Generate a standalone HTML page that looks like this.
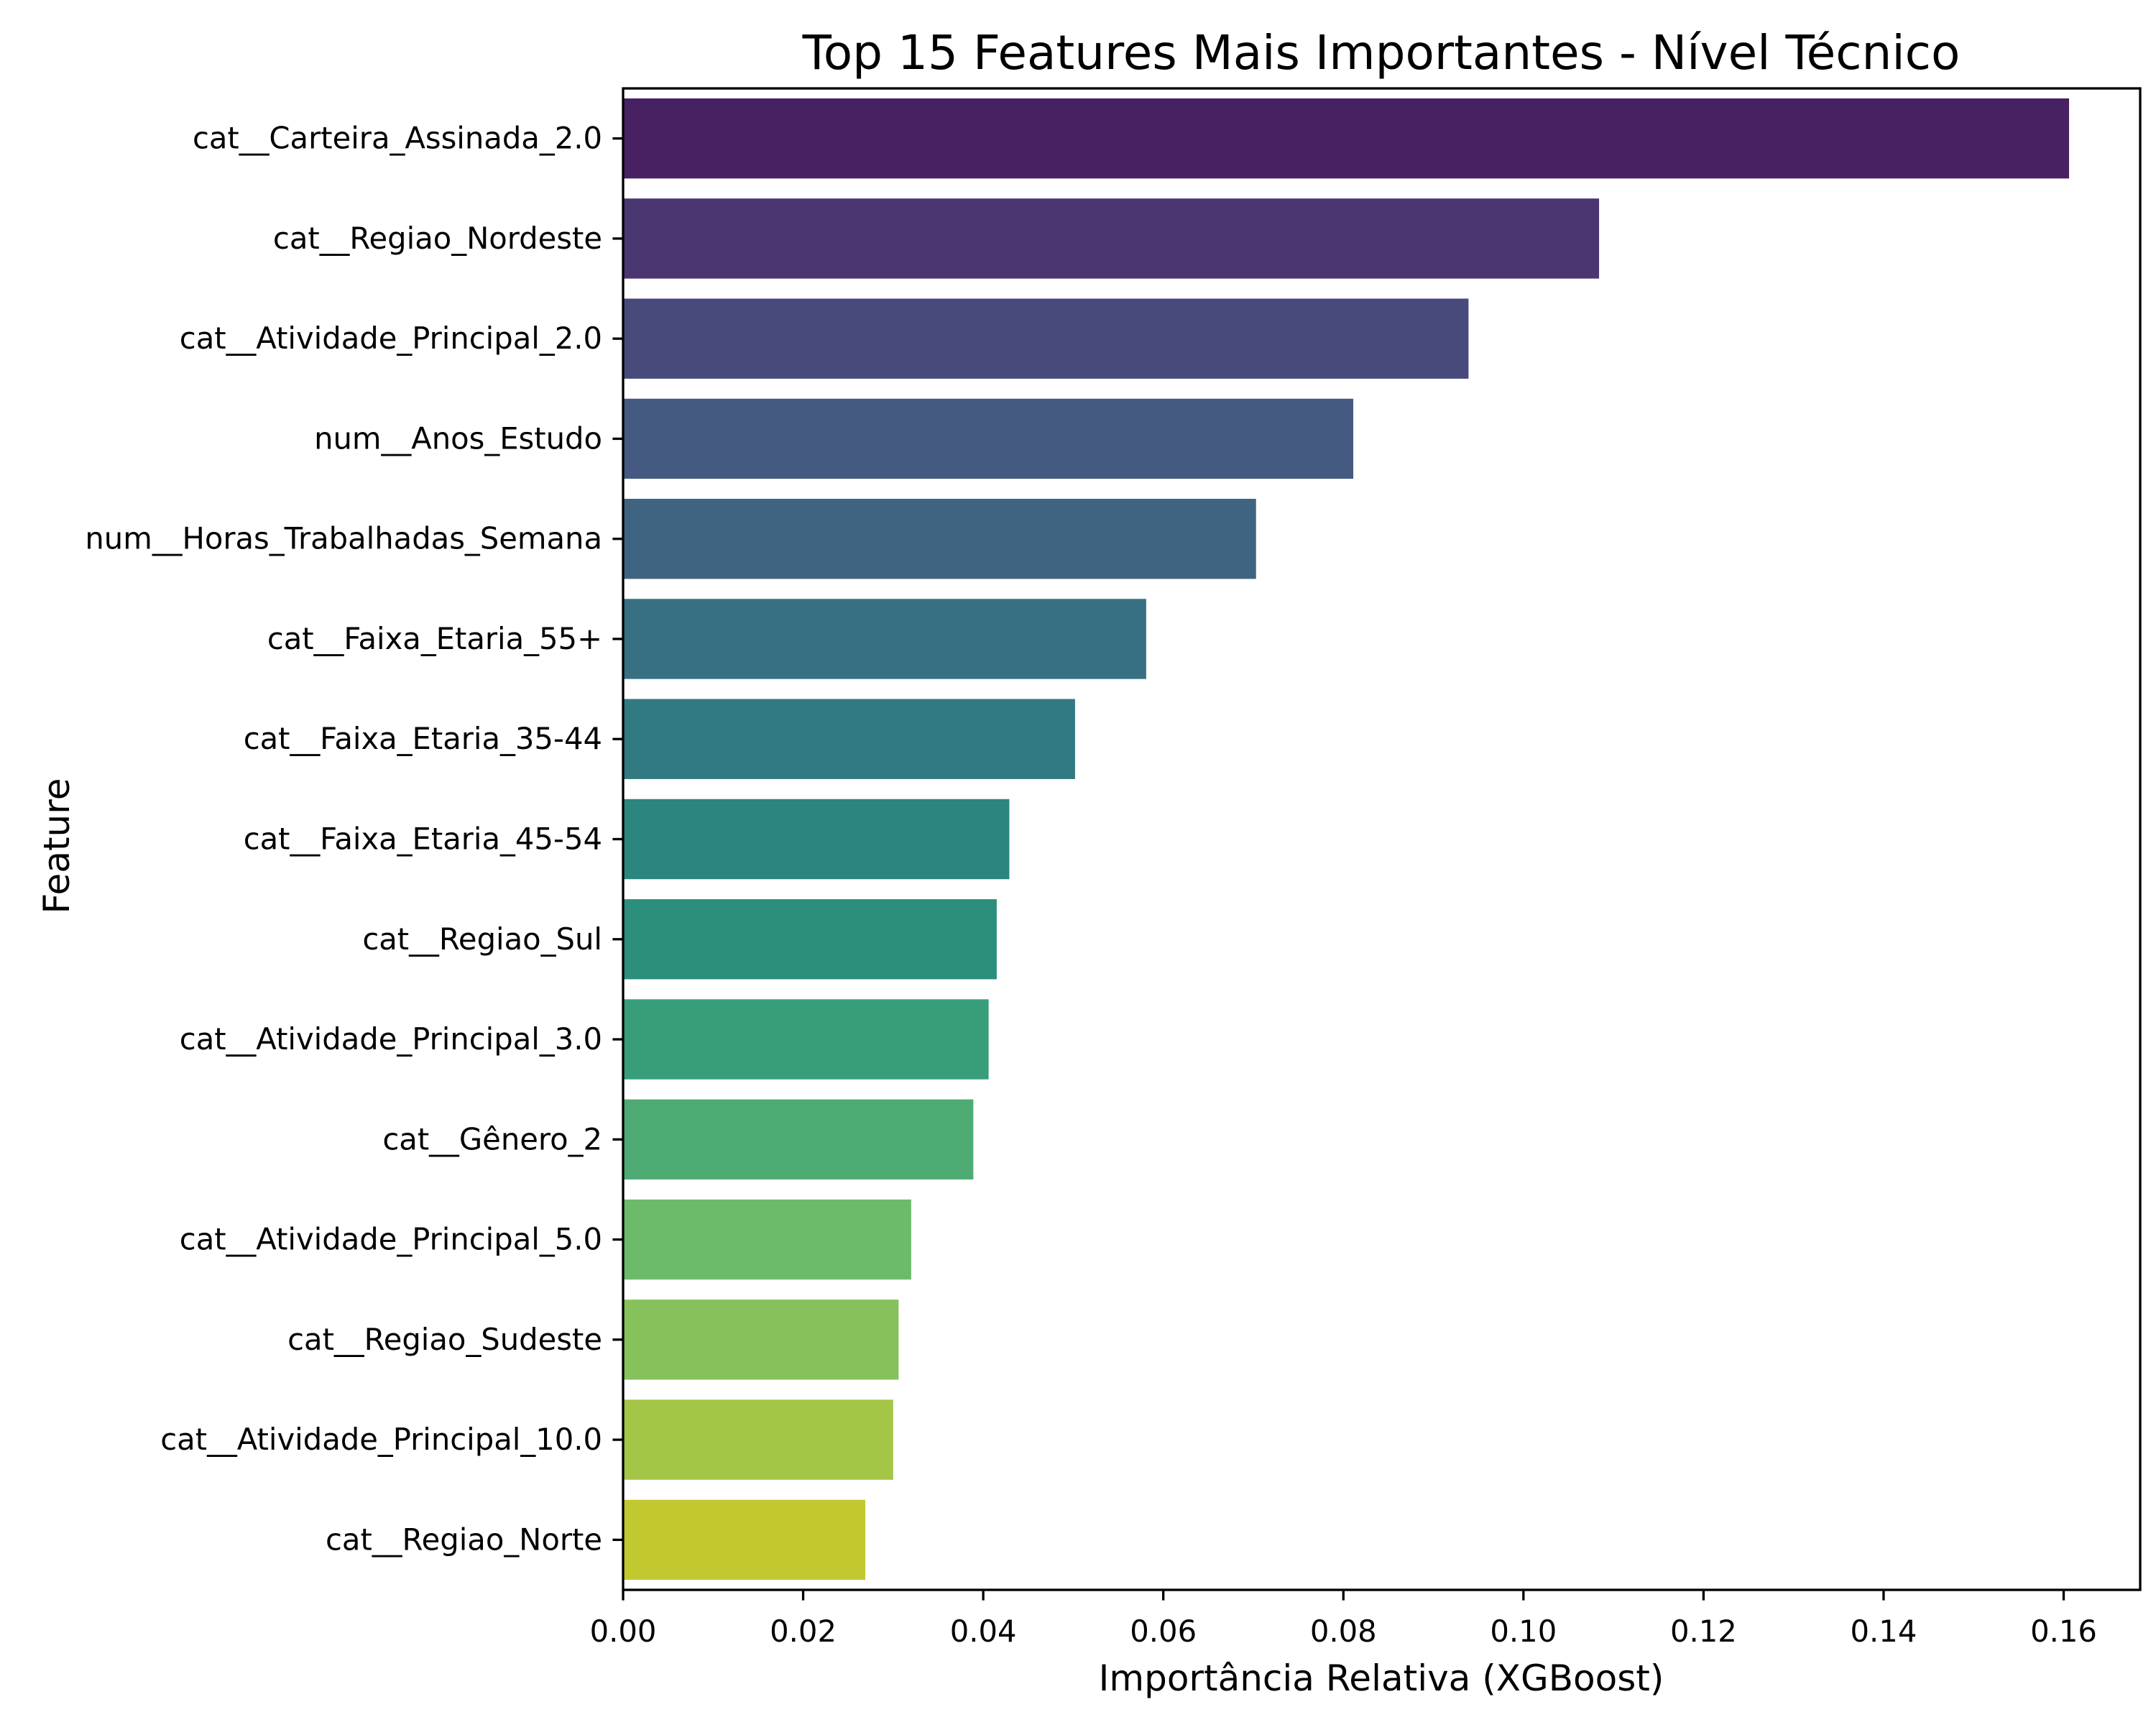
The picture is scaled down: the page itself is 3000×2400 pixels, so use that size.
<!DOCTYPE html>
<html><head><meta charset="utf-8"><style>
html,body{margin:0;padding:0;background:#fff;}
svg{display:block;font-family:"DejaVu Sans","Liberation Sans",sans-serif;}
</style></head><body>
<svg id="chart" width="3000" height="2400" viewBox="0 0 3000 2400" xmlns="http://www.w3.org/2000/svg">
<rect width="3000" height="2400" fill="#fff"/>
<text x="1922" y="96" font-size="66" text-anchor="middle" fill="#000">Top 15 Features Mais Importantes - Nível Técnico</text>
<g id="bars"></g>
<g id="yticks"></g>
<g id="xticks"></g>
<rect x="867" y="123" width="2111" height="2089" fill="none" stroke="#000" stroke-width="3.3"/>
<text x="1922" y="2352" font-size="50" text-anchor="middle" fill="#000">Importância Relativa (XGBoost)</text>
<text x="0" y="0" font-size="50" text-anchor="middle" fill="#000" transform="translate(96,1177) rotate(-90)">Feature</text>
</svg>
<script>
const categories = ["cat__Carteira_Assinada_2.0","cat__Regiao_Nordeste","cat__Atividade_Principal_2.0","num__Anos_Estudo","num__Horas_Trabalhadas_Semana","cat__Faixa_Etaria_55+","cat__Faixa_Etaria_35-44","cat__Faixa_Etaria_45-54","cat__Regiao_Sul","cat__Atividade_Principal_3.0","cat__Gênero_2","cat__Atividade_Principal_5.0","cat__Regiao_Sudeste","cat__Atividade_Principal_10.0","cat__Regiao_Norte"];
const values = [0.1606,0.1084,0.0939,0.0811,0.0703,0.0581,0.0502,0.0429,0.0415,0.0406,0.0389,0.0320,0.0306,0.0300,0.0269];
const colors = ["#482162","#4a3771","#474a7b","#445a81","#3e6482","#377082","#327a81","#2d8580","#2c8f7b","#389e79","#4eab73","#6cbb6a","#87c15b","#a3c646","#c2c930"];
const xTicks = [0,0.02,0.04,0.06,0.08,0.10,0.12,0.14,0.16];
const xTickLabels = ["0.00","0.02","0.04","0.06","0.08","0.10","0.12","0.14","0.16"];

const NS="http://www.w3.org/2000/svg";
const L=867,R=2978,T=123,B=2212,XMAX=0.1685;
const xs=v=>L+(v/XMAX)*(R-L);
const band=(B-T)/categories.length;
const ys=i=>T+i*band;
const mk=(t,a)=>{const e=document.createElementNS(NS,t);for(const k in a)e.setAttribute(k,a[k]);return e;};
const gb=document.getElementById('bars'),gy=document.getElementById('yticks'),gx=document.getElementById('xticks');
categories.forEach((c,i)=>{
  const r=mk('rect',{x:xs(0),y:ys(i)+band*0.1,width:xs(values[i])-xs(0),height:band*0.8,fill:colors[i]});
  
  
  gb.appendChild(r);
  const cy=ys(i)+band/2;
  const tk=mk('line',{x1:L-14.6,x2:L,y1:cy,y2:cy,stroke:'#000','stroke-width':3.3});
  
  
  gy.appendChild(tk);
  const t=mk('text',{x:L-29,y:cy+14,'font-size':41.7,'text-anchor':'end',fill:'#000'});
  t.textContent=c;
  
  
  gy.appendChild(t);
});
xTicks.forEach((v,i)=>{
  const x=xs(v);
  const tk=mk('line',{x1:x,x2:x,y1:B,y2:B+14.6,stroke:'#000','stroke-width':3.3});
  
  
  gx.appendChild(tk);
  const t=mk('text',{x:x,y:B+72,'font-size':41.7,'text-anchor':'middle',fill:'#000'});
  t.textContent=xTickLabels[i];
  
  
  gx.appendChild(t);
});
</script>
</body></html>
